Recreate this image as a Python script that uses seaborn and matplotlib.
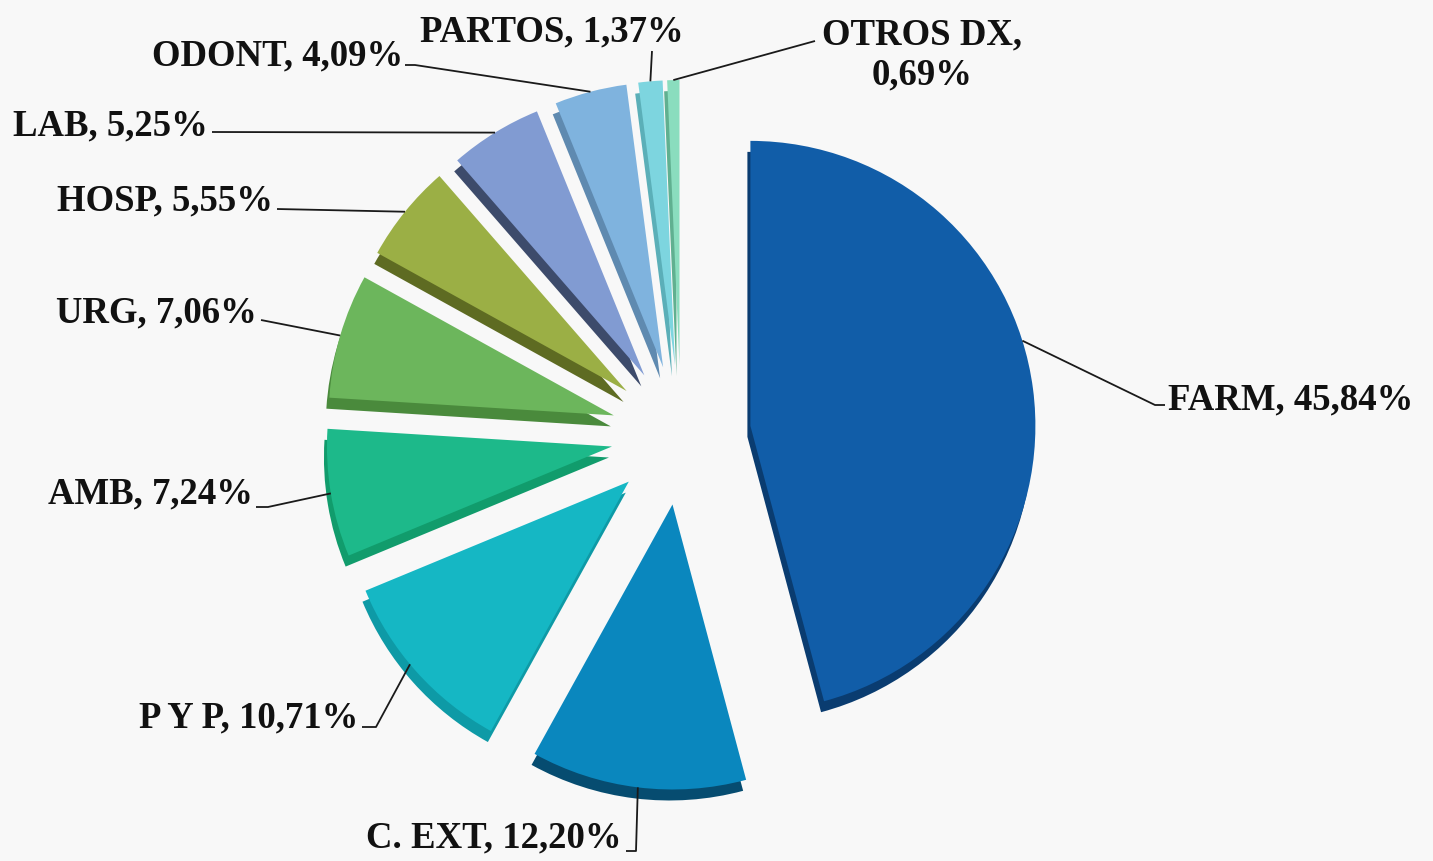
import numpy as np
import matplotlib
matplotlib.use("Agg")
import matplotlib.pyplot as plt
import seaborn as sns

# ---- data ----
categories = ["FARM", "C. EXT", "P Y P", "AMB", "URG", "HOSP", "LAB", "ODONT", "PARTOS", "OTROS DX"]
values = [45.84, 12.20, 10.71, 7.24, 7.06, 5.55, 5.25, 4.09, 1.37, 0.69]

# ---- styles ----
top_colors = ["#115DA8", "#0A87BE", "#15B7C4", "#1DB98A", "#6CB65C",
              "#9BAF45", "#819BD2", "#7FB3DE", "#7DD5DF", "#8ADDBE"]
side_colors = ["#0A3C70", "#064C70", "#0E9AA6", "#119C6C", "#4A8A3C",
               "#5E6B22", "#3D4B6B", "#5F8AB0", "#5BAFB8", "#60B090"]

W, H = 1433, 862
BG = "#F8F8F8"

sns.set_theme(style="white")
plt.rcParams['font.family'] = ['Liberation Serif', 'DejaVu Serif']

fig = plt.figure(figsize=(W / 100, H / 100), dpi=100)
fig.patch.set_facecolor(BG)
ax = fig.add_axes([0, 0, 1, 1])
ax.set_facecolor(BG)

cx, cy = 681, H - 436
R = 285
EXP = 70
DEPTH = 11
n = len(values)

# side (3D thickness)
ax.pie(values, colors=side_colors, startangle=90, counterclock=False, radius=R,
       center=(cx - 3, cy - DEPTH), explode=[EXP] * n, frame=True,
       wedgeprops=dict(linewidth=0))
# top faces
wedges, _ = ax.pie(values, colors=top_colors, startangle=90, counterclock=False, radius=R,
                   center=(cx, cy), explode=[EXP] * n, frame=True,
                   wedgeprops=dict(linewidth=0))

ax.set_xlim(0, W)
ax.set_ylim(0, H)
ax.set_aspect('auto')
ax.axis('off')

# ---- label layout (image pixel coords: x, y from top) ----
anchor_frac = [0.44, 0.5, 0.55, 0.5, 0.5, 0.5, 0.5, 0.5, 0.5, 0.5]
label_layout = [
    (1168, 400, 'left',   [(1155, 406), (1165, 406)]),
    (622, 838, 'right',   [(636, 852), (626, 852)]),
    (358, 718, 'right',   [(376, 728), (362, 728)]),
    (253, 494, 'right',   [(268, 508), (256, 508)]),
    (257, 313, 'right',   [(261, 321)]),
    (273, 201, 'right',   [(277, 210)]),
    (208, 126, 'right',   [(212, 133)]),
    (403, 56, 'right',    [(415, 66), (405, 66)]),
    (552, 32, 'center',   [(652, 52)]),
    (922, 55, 'center',   [(815, 42)]),
]

for i, (w, cat, val) in enumerate(zip(wedges, categories, values)):
    tx, ty, ha, path = label_layout[i]
    ang = np.deg2rad(w.theta2 - anchor_frac[i] * (w.theta2 - w.theta1))
    ax_, ay_ = w.center[0] + w.r * np.cos(ang), w.center[1] + w.r * np.sin(ang)
    xs = [ax_] + [p[0] for p in path]
    ys = [ay_] + [H - p[1] for p in path]
    ax.plot(xs, ys, color="#1a1a1a", lw=1.3, solid_capstyle='butt')
    valtxt = f"{val:.2f}".replace('.', ',') + "%"
    if cat == "OTROS DX":
        txt = f"{cat},\n{valtxt}"
    else:
        txt = f"{cat}, {valtxt}"
    ax.text(tx, H - ty, txt, ha=ha, va='center', fontsize=26.5, fontweight='bold',
            color="#111111", linespacing=1.15, multialignment='center')

fig.savefig("out.png", dpi=100, facecolor=BG)
